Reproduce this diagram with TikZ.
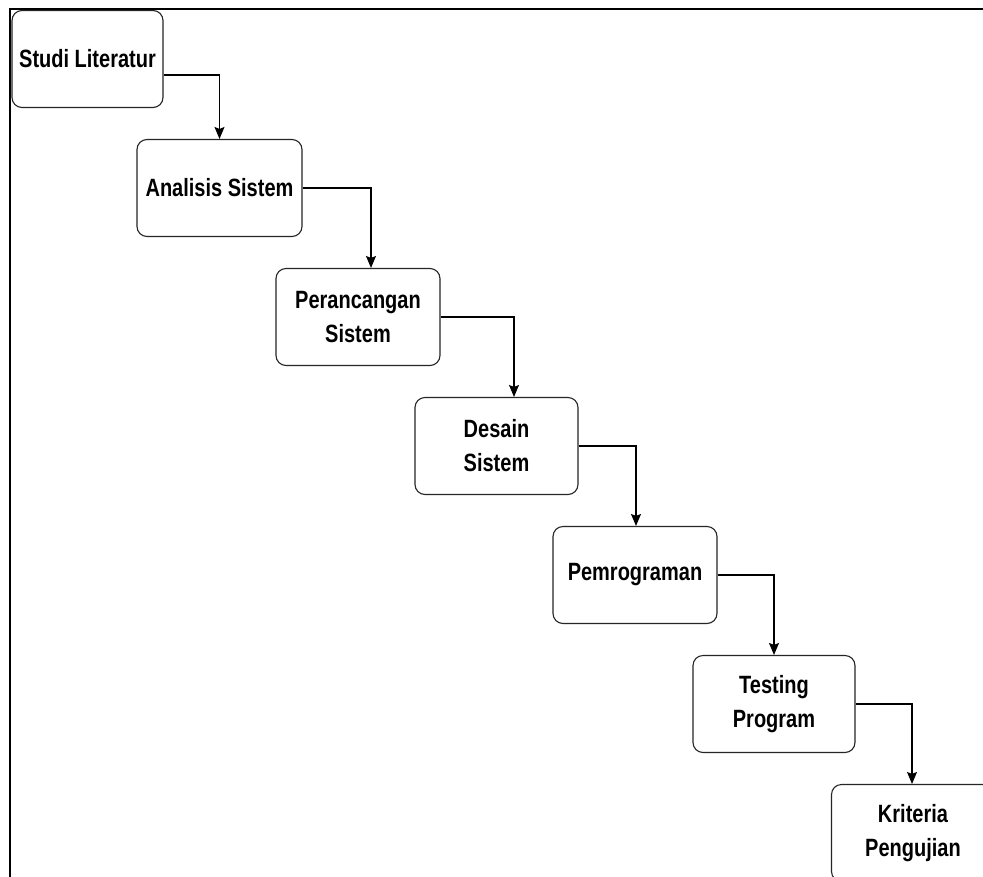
\documentclass[tikz,border=0pt]{standalone}
\usepackage{fontspec}
\setmainfont{Liberation Sans}[FakeStretch=0.8,BoldFont={* Bold}]
\usetikzlibrary{arrows.meta}
\begin{document}
\begin{tikzpicture}[x=1pt,y=-1pt,
  stepbox/.style={draw=black!85,line width=1.1pt,rounded corners=10pt,
    minimum height=97pt,align=center,inner sep=0pt,
    font=\fontsize{25}{34}\selectfont\bfseries},
  conn/.style={draw=black,line width=1.1pt,
    -{Stealth[length=12pt,width=10pt,inset=2pt]}}]
\useasboundingbox (0,0) rectangle (983,876);
\clip (0,0) rectangle (983,876);
\fill[white] (0,0) rectangle (983,876);
\draw[line width=2pt] (10,900) -- (10,9) -- (1000,9);
\node[stepbox,minimum width=151pt] (b1) at (87.5,59) {Studi Literatur};
\node[stepbox,minimum width=165pt] (b2) at (219.5,188) {Analisis Sistem};
\node[stepbox,minimum width=164pt] (b3) at (358,317) {Perancangan\\Sistem};
\node[stepbox,minimum width=163pt] (b4) at (496.5,446) {Desain\\Sistem};
\node[stepbox,minimum width=164pt] (b5) at (635,575) {Pemrograman};
\node[stepbox,minimum width=162pt] (b6) at (774,704) {Testing\\Program};
\node[stepbox,minimum width=163pt] (b7) at (913,833) {Kriteria\\Pengujian};
\draw[conn] ([yshift=-16pt]b1.east) -| (b2.north);
\draw[conn] (b2.east) -| ([xshift=13pt]b3.north);
\draw[conn] (b3.east) -| ([xshift=17.5pt]b4.north);
\draw[conn] (b4.east) -| ([xshift=1pt]b5.north);
\draw[conn] (b5.east) -| (b6.north);
\draw[conn] (b6.east) -| ([xshift=-1pt]b7.north);
\end{tikzpicture}
\end{document}
